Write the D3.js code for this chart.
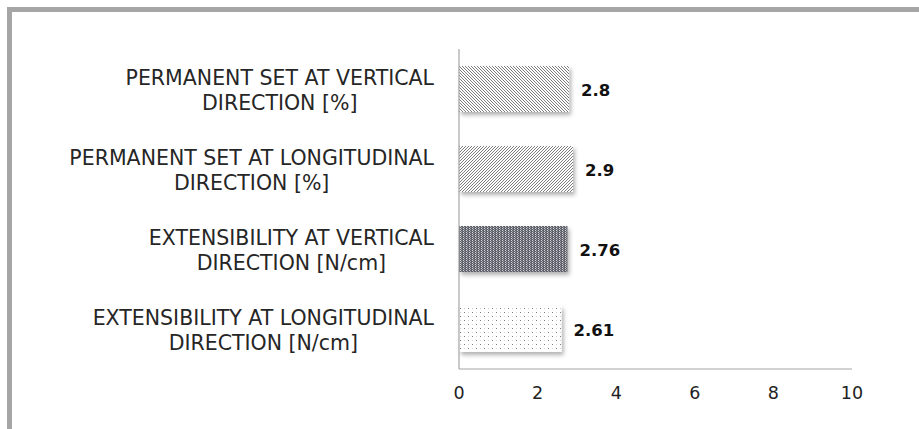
<!DOCTYPE html>
<html>
<head>
<meta charset="utf-8">
<script src="https://cdn.jsdelivr.net/npm/d3@7"></script>
<style>
  html, body { margin: 0; padding: 0; background: #fff; }
  svg { display: block; }
</style>
</head>
<body>
<svg id="chart" width="919" height="429"></svg>
<script>
// Categories, top to bottom, each split into its wrapped lines
const categories = [
  ["PERMANENT SET AT VERTICAL", "DIRECTION [%]"],
  ["PERMANENT SET AT LONGITUDINAL", "DIRECTION [%]"],
  ["EXTENSIBILITY AT VERTICAL", "DIRECTION [N/cm]"],
  ["EXTENSIBILITY AT LONGITUDINAL", "DIRECTION [N/cm]"]
];
const values = [2.8, 2.9, 2.76, 2.61];
const valueLabels = ["2.8", "2.9", "2.76", "2.61"];
const xTicks = [0, 2, 4, 6, 8, 10];
const fills = ["hatchDown", "hatchUp", "darkGrid", "sparseDots"];

const svg = d3.select("#chart");
const W = 919, H = 429;
const plot = { left: 459, right: 852, top: 49, bottom: 369 };

// Outer frame
svg.append("rect")
  .attr("x", 9.5).attr("y", 9.5)
  .attr("width", W + 20).attr("height", H + 20)
  .attr("fill", "none")
  .attr("stroke", "#a6a6a6")
  .attr("stroke-width", 5);

const defs = svg.append("defs");

// Drop shadow under the bars
const shadow = defs.append("filter").attr("id", "barShadow")
  .attr("x", "-10%").attr("y", "-20%").attr("width", "130%").attr("height", "160%");
shadow.append("feDropShadow")
  .attr("dx", 2).attr("dy", 3).attr("stdDeviation", 2)
  .attr("flood-color", "#000").attr("flood-opacity", 0.3);

// Downward diagonal hatch ( \\\ )
const p1 = defs.append("pattern").attr("id", "hatchDown")
  .attr("patternUnits", "userSpaceOnUse").attr("width", 3).attr("height", 3);
p1.append("rect").attr("width", 3).attr("height", 3).attr("fill", "#fff");
p1.append("path").attr("d", "M-1,-1 L4,4 M-1,2 L1,4 M2,-1 L4,1")
  .attr("stroke", "#6e6e6e").attr("stroke-width", 0.9);

// Upward diagonal hatch ( /// )
const p2 = defs.append("pattern").attr("id", "hatchUp")
  .attr("patternUnits", "userSpaceOnUse").attr("width", 3).attr("height", 3);
p2.append("rect").attr("width", 3).attr("height", 3).attr("fill", "#fff");
p2.append("path").attr("d", "M-1,4 L4,-1 M-1,1 L1,-1 M2,4 L4,2")
  .attr("stroke", "#6e6e6e").attr("stroke-width", 0.9);

// Dark dotted grid
const p3 = defs.append("pattern").attr("id", "darkGrid")
  .attr("patternUnits", "userSpaceOnUse").attr("width", 3).attr("height", 2);
p3.append("rect").attr("width", 3).attr("height", 2).attr("fill", "#5e626b");
p3.append("rect").attr("x", 1).attr("y", 0).attr("width", 1).attr("height", 1).attr("fill", "#d6d7da");
p3.append("rect").attr("x", 2).attr("y", 1).attr("width", 1).attr("height", 1).attr("fill", "#9c9ea3");

// Sparse dots
const p4 = defs.append("pattern").attr("id", "sparseDots")
  .attr("patternUnits", "userSpaceOnUse").attr("width", 8).attr("height", 8);
p4.append("rect").attr("width", 8).attr("height", 8).attr("fill", "#fff");
p4.append("rect").attr("x", 0).attr("y", 0).attr("width", 1).attr("height", 1).attr("fill", "#7a7a7a");
p4.append("rect").attr("x", 4).attr("y", 4).attr("width", 1).attr("height", 1).attr("fill", "#7a7a7a");
p4.append("rect").attr("x", 4).attr("y", 0).attr("width", 1).attr("height", 1).attr("fill", "#cfcfcf");
p4.append("rect").attr("x", 0).attr("y", 4).attr("width", 1).attr("height", 1).attr("fill", "#cfcfcf");

// Scales
const x = d3.scaleLinear().domain([0, 10]).range([plot.left, plot.right]);
const y = d3.scaleBand().domain(d3.range(categories.length))
  .range([plot.top, plot.bottom]).paddingInner(0.425).paddingOuter(0.2125);

// Bars
svg.append("g").selectAll("rect").data(values).join("rect")
  .attr("x", x(0))
  .attr("y", (d, i) => y(i))
  .attr("width", d => x(d) - x(0))
  .attr("height", y.bandwidth())
  .attr("fill", (d, i) => `url(#${fills[i]})`)
  .attr("filter", "url(#barShadow)");

// Axis lines
const axisColor = "#a6a6a6";
svg.append("line")
  .attr("x1", x(0)).attr("x2", x(0))
  .attr("y1", plot.top).attr("y2", plot.bottom)
  .attr("stroke", axisColor).attr("stroke-width", 1.2);
svg.append("line")
  .attr("x1", x(0)).attr("x2", x(10))
  .attr("y1", plot.bottom).attr("y2", plot.bottom)
  .attr("stroke", axisColor).attr("stroke-width", 1.2);

// X tick labels
svg.append("g").selectAll("text").data(xTicks).join("text")
  .attr("x", d => x(d))
  .attr("y", 393)
  .attr("text-anchor", "middle")
  .attr("dominant-baseline", "central")
  .attr("font-family", "DejaVu Sans, sans-serif")
  .attr("font-size", 17.5)
  .attr("fill", "#222")
  .text(d => d);

// Value labels
svg.append("g").selectAll("text").data(values).join("text")
  .attr("x", d => x(d) + 12)
  .attr("y", (d, i) => y(i) + y.bandwidth() / 2 + 1)
  .attr("dominant-baseline", "central")
  .attr("font-family", "DejaVu Sans, sans-serif")
  .attr("font-weight", "bold")
  .attr("font-size", 16.5)
  .attr("fill", "#111")
  .text((d, i) => valueLabels[i]);

// Category labels: lines centred inside a right-aligned block
const labelRight = 434;
const catG = svg.append("g");
categories.forEach((lines, i) => {
  const cy = y(i) + y.bandwidth() / 2 + 1;
  const g = catG.append("g");
  const texts = lines.map((line, k) => g.append("text")
    .attr("y", cy + (k - (lines.length - 1) / 2) * 25)
    .attr("text-anchor", "middle")
    .attr("dominant-baseline", "central")
    .attr("font-family", "DejaVu Sans, sans-serif")
    .attr("font-size", 20.5)
    .attr("fill", "#262626")
    .text(line));
  const maxW = d3.max(texts, t => t.node().getComputedTextLength());
  texts.forEach(t => t.attr("x", labelRight - maxW / 2));
});
</script>
</body>
</html>
